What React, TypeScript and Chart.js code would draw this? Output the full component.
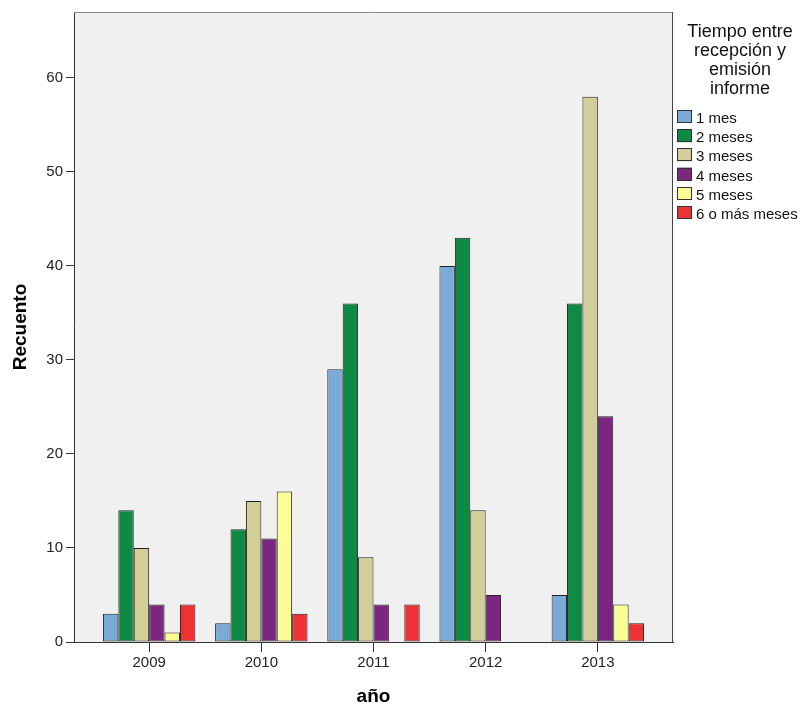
import React, { useEffect, useRef } from "react";
import { Chart, registerables } from "chart.js";

Chart.register(...registerables);

const years = ["2009", "2010", "2011", "2012", "2013"];
const seriesLabels = ["1 mes", "2 meses", "3 meses", "4 meses", "5 meses", "6 o más meses"];
const mes1 = [3, 2, 29, 40, 5];
const meses2 = [14, 12, 36, 43, 36];
const meses3 = [10, 15, 9, 14, 58];
const meses4 = [4, 11, 4, 5, 24];
const meses5 = [1, 16, 0, 0, 4];
const meses6 = [4, 3, 4, 0, 2];
const seriesValues = [mes1, meses2, meses3, meses4, meses5, meses6];
const colors = ["#7aaad8", "#0e8a45", "#d3ce98", "#7b2781", "#fdfd96", "#ee3135"];
const legendTitle = ["Tiempo entre", "recepción y", "emisión", "informe"];
const yAxisTitle = "Recuento";
const xAxisTitle = "año";

const FONT = "'Liberation Sans', Arial, sans-serif";

const framePlugin = {
  id: "frame",
  beforeDraw(chart: any) {
    const { ctx, chartArea: a } = chart;
    ctx.save();
    ctx.fillStyle = "#ffffff";
    ctx.fillRect(0, 0, chart.width, chart.height);
    ctx.fillStyle = "#f0f0f0";
    ctx.fillRect(a.left, a.top, a.right - a.left, a.bottom - a.top);
    ctx.restore();
  },
  afterDraw(chart: any) {
    const { ctx, chartArea: a } = chart;
    ctx.save();
    ctx.lineWidth = 1;
    ctx.strokeStyle = "#888888";
    ctx.beginPath();
    ctx.moveTo(a.left, a.top + 0.5);
    ctx.lineTo(a.right, a.top + 0.5);
    ctx.stroke();
    ctx.strokeStyle = "#444444";
    ctx.beginPath();
    ctx.moveTo(Math.round(a.right) - 0.5, a.top);
    ctx.lineTo(Math.round(a.right) - 0.5, a.bottom);
    ctx.stroke();

    // legend
    const cx = 740;
    ctx.fillStyle = "#111111";
    ctx.textAlign = "center";
    ctx.textBaseline = "alphabetic";
    ctx.font = `18px ${FONT}`;
    legendTitle.forEach((line, i) => {
      ctx.fillText(line, cx, 37 + i * 19);
    });
    ctx.textAlign = "left";
    ctx.font = `15px ${FONT}`;
    seriesLabels.forEach((lab, i) => {
      const top = 110 + i * 19.2;
      ctx.fillStyle = colors[i];
      ctx.fillRect(677, top, 15, 13);
      ctx.strokeStyle = "#333333";
      ctx.strokeRect(677.5, Math.round(top) + 0.5, 14, 12);
      ctx.fillStyle = "#111111";
      ctx.fillText(lab, 696, top + 13);
    });
    ctx.restore();
  },
};

export default function App() {
  const ref = useRef<HTMLCanvasElement | null>(null);

  useEffect(() => {
    document.body.style.margin = "0";
    const canvas = ref.current;
    if (!canvas) return;
    const chart = new Chart(canvas, {
      type: "bar",
      data: {
        datasets: seriesLabels.map((label, si) => ({
          label,
          data: seriesValues[si].map((v, i) => ({ x: i, y: v })),
          backgroundColor: colors[si],
          borderColor: "#222222",
          borderWidth: 1,
          borderSkipped: false,
          categoryPercentage: 0.824,
          barPercentage: 1.0,
        })),
      },
      options: {
        animation: false,
        responsive: false,
        maintainAspectRatio: false,
        layout: { padding: { left: 0, right: 132, top: 12, bottom: 0 } },
        plugins: {
          legend: { display: false },
          tooltip: { enabled: false },
        },
        scales: {
          x: {
            type: "linear",
            min: -0.67,
            max: 4.67,
            offset: false,
            afterBuildTicks: (s: any) => {
              s.ticks = years.map((_, i) => ({ value: i }));
            },
            afterFit: (s: any) => {
              s.height = 66;
            },
            ticks: {
              autoSkip: false,
              maxRotation: 0,
              padding: 2,
              color: "#222222",
              font: { size: 15, family: FONT },
              callback: (_v: any, i: number) => years[i],
            },
            grid: {
              drawOnChartArea: false,
              drawTicks: true,
              offset: false,
              tickLength: 10,
              color: "#333333",
            },
            border: { display: true, color: "#333333", width: 1 },
            title: {
              display: true,
              text: xAxisTitle,
              color: "#000000",
              font: { size: 19, weight: "bold", family: FONT },
              padding: { top: 0, bottom: 0 },
            },
          },
          y: {
            min: 0,
            max: 67,
            afterFit: (s: any) => {
              s.width = 74;
            },
            ticks: {
              stepSize: 10,
              includeBounds: false,
              padding: 3,
              color: "#222222",
              font: { size: 15, family: FONT },
            },
            grid: {
              drawOnChartArea: false,
              drawTicks: true,
              tickLength: 8,
              color: "#333333",
            },
            border: { display: true, color: "#333333", width: 1 },
            title: {
              display: true,
              text: yAxisTitle,
              color: "#000000",
              font: { size: 19, weight: "bold", family: FONT },
              padding: { top: 9, bottom: 0 },
            },
          },
        },
      },
      plugins: [framePlugin],
    } as any);
    return () => chart.destroy();
  }, []);

  return (
    <div style={{ width: 805, height: 708 }}>
      <canvas ref={ref} width={805} height={708} style={{ display: "block", width: 805, height: 708 }} />
    </div>
  );
}
